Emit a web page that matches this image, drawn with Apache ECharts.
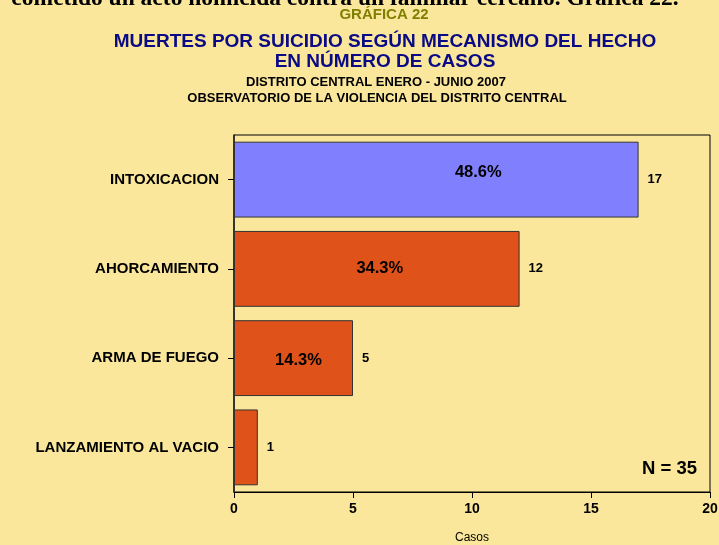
<!DOCTYPE html>
<html><head><meta charset="utf-8">
<script src="https://cdn.jsdelivr.net/npm/echarts@6/dist/echarts.min.js"></script>
<style>html,body{margin:0;padding:0;background:#FAE79C;}#c{width:719px;height:545px;}</style>
</head><body><div id="c"></div>
<script>
const categories = ['INTOXICACION', 'AHORCAMIENTO', 'ARMA DE FUEGO', 'LANZAMIENTO AL VACIO'];
const casos = [17, 12, 5, 1];
const porcentajes = ['48.6%', '34.3%', '14.3%', ''];
const xTicks = [0, 5, 10, 15, 20];
const total = 35;
const barColors = ['#8080FF', '#DF5219', '#DF5219', '#DF5219'];
const pctOffsets = [[42, -7], [3, 0], [5, 2], [0, 0]];

const F = '"Liberation Sans", Arial, sans-serif';
const chart = echarts.init(document.getElementById('c'), null, {renderer: 'canvas'});
chart.setOption({
  backgroundColor: '#FAE79C',
  animation: false,
  textStyle: {fontFamily: F},
  graphic: [
    {type: 'text', x: 345, y: -13, style: {text: 'cometido un acto homicida contra un familiar cercano. Gráfica 22.', font: 'bold 23.5px "Liberation Serif", serif', fill: '#000', textAlign: 'center'}},
    {type: 'text', x: 384, y: 7, style: {text: 'GRÁFICA 22', font: 'bold 15px ' + F, fill: '#7F7F00', textAlign: 'center'}},
    {type: 'text', x: 385, y: 32, style: {text: 'MUERTES POR SUICIDIO SEGÚN MECANISMO DEL HECHO', font: 'bold 19px ' + F, fill: '#0A0A85', textAlign: 'center'}},
    {type: 'text', x: 385, y: 52, style: {text: 'EN NÚMERO DE CASOS', font: 'bold 19px ' + F, fill: '#0A0A85', textAlign: 'center'}},
    {type: 'text', x: 376, y: 76, style: {text: 'DISTRITO CENTRAL ENERO - JUNIO 2007', font: 'bold 13px ' + F, fill: '#000', textAlign: 'center'}},
    {type: 'text', x: 377, y: 92, style: {text: 'OBSERVATORIO DE LA VIOLENCIA DEL DISTRITO CENTRAL', font: 'bold 13px ' + F, fill: '#000', textAlign: 'center'}},
    {type: 'text', x: 697, y: 459, style: {text: 'N = ' + total, font: 'bold 18.5px ' + F, fill: '#000', textAlign: 'right'}}
  ],
  grid: {left: 234, right: 9, top: 135, bottom: 53, show: true, borderColor: '#000', borderWidth: 1, backgroundColor: 'transparent', containLabel: false, outerBoundsMode: 'none'},
  xAxis: {
    type: 'value', min: 0, max: 20, interval: 5,
    name: 'Casos', nameLocation: 'middle', nameGap: 40,
    nameTextStyle: {fontSize: 12, color: '#000'},
    axisLine: {show: true, lineStyle: {color: '#000', width: 1}},
    axisTick: {show: true, length: 6, lineStyle: {color: '#000'}},
    axisLabel: {fontSize: 14, fontWeight: 'bold', color: '#000', margin: 10,
      formatter: v => xTicks.includes(v) ? String(v) : ''},
    splitLine: {show: false}
  },
  yAxis: {
    type: 'category', data: categories, inverse: true,
    axisLine: {show: true, lineStyle: {color: '#222', width: 1.5}},
    axisTick: {show: true, alignWithLabel: true, length: 6, lineStyle: {color: '#000'}},
    axisLabel: {fontSize: 15, fontWeight: 'bold', color: '#000', margin: 15}
  },
  series: [
    {
      type: 'bar', barCategoryGap: '15%',
      data: casos.map((v, i) => ({value: v, itemStyle: {color: barColors[i]}})),
      itemStyle: {borderColor: '#333', borderWidth: 1},
      label: {show: true, position: 'right', distance: 9, fontSize: 13, fontWeight: 'bold', color: '#000'},
      z: 2
    },
    {
      type: 'bar', barCategoryGap: '15%', barGap: '-100%', silent: true,
      data: casos.map((v, i) => ({value: v, label: {offset: pctOffsets[i]}})),
      itemStyle: {color: 'transparent'},
      label: {show: true, position: 'inside', fontSize: 16.5, fontWeight: 'bold', color: '#000',
        formatter: p => porcentajes[p.dataIndex]},
      z: 3
    }
  ]
});
</script></body></html>
